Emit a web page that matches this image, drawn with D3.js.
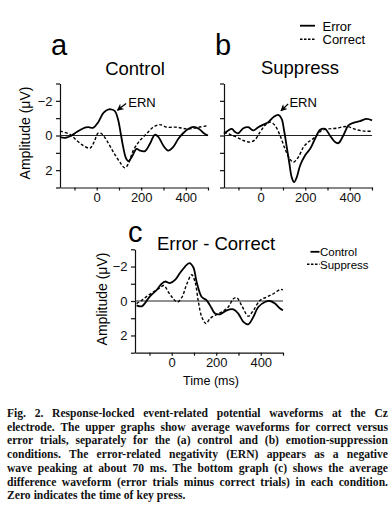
<!DOCTYPE html>
<html><head><meta charset="utf-8">
<script src="https://cdn.jsdelivr.net/npm/d3@7/dist/d3.min.js"></script>
<style>
html,body{margin:0;padding:0;background:#fff;}
svg{display:block;}
</style></head>
<body>
<script>
// ---------- DATA ----------
// Panel a: Control
const ctrlErrorT = [-165,-140,-112,-90,-60,-38,-15,7,30,52,67,82,97,108,119,131,142,157,179,194,217,239,261,276,299,321,343,366,388,411,435,460,480,500];
const ctrlErrorV = [0.1,0.13,0,-0.2,-0.42,-0.48,-0.45,-0.77,-1.3,-1.5,-1.5,-1.4,-0.87,-0.1,0.67,1.29,1.48,1.25,0.77,0.87,0.9,0.48,-0.04,0.06,0.58,0.87,0.67,0.2,-0.13,-0.38,-0.5,-0.38,-0.15,0];
const ctrlCorrectT = [-165,-120,-90,-60,-30,-12,7,22,45,75,104,127,142,164,194,224,254,284,314,359,404,450,490,500];
const ctrlCorrectV = [-0.25,-0.06,0.29,0.58,0.73,0.38,-0.15,-0.1,0.29,0.96,1.54,1.87,1.63,0.87,0.29,-0.1,-0.48,-0.63,-0.48,-0.48,-0.38,-0.45,-0.55,-0.55];
// Panel b: Suppress
const suppErrorT = [-165,-146,-130,-115,-101,-78,-56,-33,-11,12,34,57,79,94,105,117,129,139,150,162,177,199,222,244,267,289,311,334,349,371,394,416,446,476,500];
const suppErrorV = [-0.1,-0.29,-0.38,-0.2,-0.13,-0.42,-0.48,-0.29,-0.48,-0.63,-0.77,-1.06,-1.19,-0.96,-0.29,0.67,1.63,2.4,2.69,2.4,1.73,1.15,0.77,0.19,-0.33,-0.38,0,0.38,0.44,0,-0.58,-0.73,-0.83,-0.96,-0.87];
const suppCorrectT = [-165,-138,-108,-78,-48,-26,-3,19,42,64,87,109,132,147,169,192,214,244,274,304,342,387,431,468,500];
const suppCorrectV = [-0.19,-0.06,0.1,0.29,0.38,0.25,-0.19,-0.58,-0.77,-0.58,0,0.77,1.38,1.54,1.25,0.67,0.38,0.1,-0.29,-0.38,-0.42,-0.52,-0.33,-0.25,-0.25];
// Panel c: Error - Correct
const diffCtrlT = [-158,-135,-120,-98,-67,-45,-30,-8,15,37,60,79,97,112,135,157,180,195,217,247,277,299,322,344,367,389,419,442,464,487,500];
const diffCtrlV = [0.25,0.31,0.12,-0.27,-0.65,-1.0,-1.13,-1.04,-1.23,-1.62,-2.0,-2.2,-1.96,-1.1,-0.23,-0.04,0.44,0.73,0.77,0.54,0.48,0.73,1.21,1.35,0.92,0.35,0.06,0,0.15,0.44,0.54];
const diffSuppT = [-158,-135,-112,-83,-53,-35,-15,7,25,45,67,90,105,120,135,154,172,195,225,254,277,292,314,344,367,397,427,457,487,500];
const diffSuppV = [0.15,-0.04,-0.27,-0.52,-0.77,-0.9,-0.52,-0.13,0.06,-0.19,-0.96,-1.52,-1.1,0.06,0.92,1.31,1.02,0.83,0.63,0.35,-0.13,-0.19,0.25,0.88,0.54,-0.04,-0.23,-0.42,-0.67,-0.65];

// ERN annotation (data coords): tail, tip, label
const ernA = {tailT:132, tailV:-1.85, tipT:93, tipV:-1.45, textT:142, textV:-1.66};
const ernB = {tailT:123, tailV:-1.82, tipT:91, tipV:-1.42, textT:129, textV:-1.65};

const xTicks = [-100,0,100,200,300,400,500];
const xTickLabels = [0,200,400];
const yTicks = [-3,-2,-1,0,1,2,3];
const yTickLabels = [-2,0,2];
const xDomain = [-165,500];
const yDomain = [-3,3];

const captionLines = [
 "Fig. 2. Response-locked event-related potential waveforms at the Cz",
 "electrode. The upper graphs show average waveforms for correct versus",
 "error trials, separately for the (a) control and (b) emotion-suppression",
 "conditions. The error-related negativity (ERN) appears as a negative",
 "wave peaking at about 70 ms. The bottom graph (c) shows the average",
 "difference waveform (error trials minus correct trials) in each condition.",
 "Zero indicates the time of key press."
];

// ---------- DRAW ----------
const W=392,H=508;
const SANS='"Liberation Sans", Arial, Helvetica, sans-serif';
const svg=d3.select('body').append('svg').attr('width',W).attr('height',H);
svg.append('defs').append('marker').attr('id','arr').attr('viewBox','0 0 10 10')
  .attr('refX',9).attr('refY',5).attr('markerWidth',7).attr('markerHeight',7)
  .attr('markerUnits','userSpaceOnUse').attr('orient','auto')
  .append('path').attr('d','M0,0 L10,5 L0,10 L3,5 Z').attr('fill','#000');

function zip(t,v){return t.map((d,i)=>({t:d,v:v[i]}));}

function panel(cfg){
  const x=d3.scaleLinear().domain(xDomain).range([cfg.x0,cfg.x1]);
  const y=d3.scaleLinear().domain(yDomain).range([cfg.y0,cfg.y1]);
  const g=svg.append('g');
  const ya=d3.axisLeft(y).tickValues(yTicks).tickSize(4).tickSizeOuter(0).tickPadding(3.5)
    .tickFormat(d=> (cfg.yLabels && yTickLabels.includes(d)) ? (d<0?'\u2212'+(-d):String(d)) : '');
  const xa=d3.axisBottom(x).tickValues(xTicks).tickSize(3).tickSizeOuter(0).tickPadding(2.5)
    .tickFormat(d=> xTickLabels.includes(d)?String(d):'');
  const gy=g.append('g').attr('transform',`translate(${cfg.x0},0)`).call(ya);
  const gx=g.append('g').attr('transform',`translate(0,${cfg.y1})`).call(xa);
  [gx,gy].forEach(a=>{
    a.selectAll('path,line').attr('stroke','#111').attr('stroke-width',1.2);
    a.selectAll('text').attr('font-family',SANS).attr('font-size',13).attr('fill','#111');
  });
  g.append('line').attr('x1',x(xDomain[0])).attr('x2',x(xDomain[1]))
    .attr('y1',y(0)).attr('y2',y(0)).attr('stroke','#222').attr('stroke-width',1);
  const line=d3.line().x(d=>x(d.t)).y(d=>y(d.v)).curve(d3.curveCatmullRom.alpha(0.5));
  g.append('path').datum(zip(cfg.dT,cfg.dV)).attr('d',line).attr('fill','none')
    .attr('stroke','#000').attr('stroke-width',1.4).attr('stroke-dasharray','3,2');
  g.append('path').datum(zip(cfg.sT,cfg.sV)).attr('d',line).attr('fill','none')
    .attr('stroke','#000').attr('stroke-width',1.8);
  g.append('text').attr('x',cfg.titleX).attr('y',cfg.titleY).attr('text-anchor','middle')
    .attr('font-family',SANS).attr('font-size',18.5).text(cfg.title);
  g.append('text').attr('x',cfg.letterX).attr('y',cfg.letterY)
    .attr('font-family',SANS).attr('font-size',29).text(cfg.letter);
  if(cfg.yTitle){
    g.append('text').attr('transform',`translate(${cfg.yTitleX},${cfg.yTitleY}) rotate(-90)`)
      .attr('text-anchor','middle').attr('font-family',SANS).attr('font-size',14).text('Amplitude (\u03bcV)');
  }
  if(cfg.xTitle){
    g.append('text').attr('x',cfg.xTitleX).attr('y',cfg.xTitleY).attr('text-anchor','middle')
      .attr('font-family',SANS).attr('font-size',12.5).text('Time (ms)');
  }
  if(cfg.ern){
    const e=cfg.ern;
    g.append('line').attr('x1',x(e.tailT)).attr('y1',y(e.tailV)).attr('x2',x(e.tipT)).attr('y2',y(e.tipV))
      .attr('stroke','#000').attr('stroke-width',1.3).attr('marker-end','url(#arr)');
    g.append('text').attr('x',x(e.textT)).attr('y',y(e.textV)).attr('font-family',SANS)
      .attr('font-size',13).text('ERN');
  }
  return g;
}

panel({x0:60,x1:208,y0:83.5,y1:187.5,sT:ctrlErrorT,sV:ctrlErrorV,dT:ctrlCorrectT,dV:ctrlCorrectV,
  title:'Control',titleX:135,titleY:75,letter:'a',letterX:51,letterY:55,yLabels:true,
  yTitle:true,yTitleX:29.5,yTitleY:133,ern:ernA});
panel({x0:224,x1:372,y0:83.5,y1:187.5,sT:suppErrorT,sV:suppErrorV,dT:suppCorrectT,dV:suppCorrectV,
  title:'Suppress',titleX:300,titleY:74,letter:'b',letterX:215,letterY:55,yLabels:false,ern:ernB});
panel({x0:135,x1:283,y0:249.3,y1:352.7,sT:diffCtrlT,sV:diffCtrlV,dT:diffSuppT,dV:diffSuppV,
  title:'Error - Correct',titleX:216,titleY:250,letter:'c',letterX:128,letterY:242,yLabels:true,
  yTitle:true,yTitleX:106.5,yTitleY:299,xTitle:true,xTitleX:211,xTitleY:385});

function legend(items,x1,x2,tx,ys,tys,fs){
  items.forEach((it,i)=>{
    svg.append('line').attr('x1',x1[i]).attr('x2',x2).attr('y1',ys[i]).attr('y2',ys[i])
      .attr('stroke','#000').attr('stroke-width',it.dash?1.4:1.8).attr('stroke-dasharray',it.dash?'2.5,1.5':null);
    svg.append('text').attr('x',tx).attr('y',tys[i]).attr('font-family',SANS).attr('font-size',fs).text(it.label);
  });
}
legend([{label:'Error'},{label:'Correct',dash:true}],[300,300],315,322.5,[25.7,39.3],[30.5,44],13);
legend([{label:'Control'},{label:'Suppress',dash:true}],[310.5,307],319.5,320,[251.8,264.3],[255.8,269],11.5);

const capLeft=7,capRight=388,capY0=417,capLH=13.7;
const CAPFONT='"Liberation Serif","Times New Roman",serif';
captionLines.forEach((ln,i)=>{
  const y=capY0+i*capLH;
  const last=i===captionLines.length-1;
  const words=ln.split(' ');
  const g=svg.append('g');
  const nodes=words.map(w=>g.append('text').attr('y',y).attr('font-family',CAPFONT)
    .attr('font-weight','bold').attr('font-size',11.6).attr('fill','#111').text(w));
  const widths=nodes.map(n=>n.node().getComputedTextLength());
  const total=d3.sum(widths);
  let gap=last?3:(capRight-capLeft-total)/(words.length-1);
  let sx=1;
  if(gap<2){gap=2; sx=(capRight-capLeft-gap*(words.length-1))/total;}
  let cx=capLeft;
  nodes.forEach((n,k)=>{n.attr('x',cx/sx); cx+=widths[k]*sx+gap;});
  if(sx!==1) g.attr('transform',`scale(${sx},1)`);
});
</script>
</body></html>
